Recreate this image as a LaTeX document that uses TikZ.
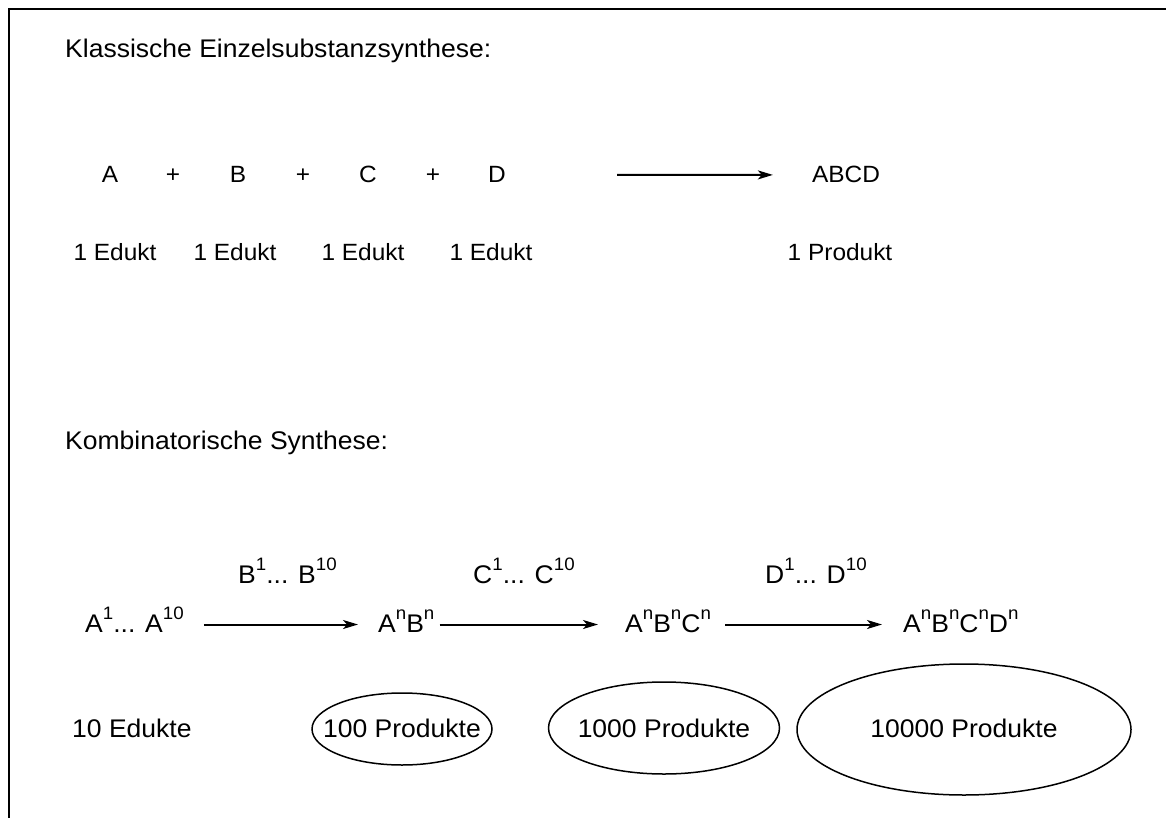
\documentclass[tikz,border=0pt]{standalone}
\usepackage{fontspec}
\setmainfont{Liberation Sans}[FakeStretch=1.04]
\usetikzlibrary{arrows.meta}

% hochgestellte Indizes
\newcommand{\hoch}[1]{\raisebox{12.5pt}{\fontsize{18}{20}\selectfont #1}}

\begin{document}
\begin{tikzpicture}[x=1pt, y=-1pt,
    txt/.style={inner sep=0pt, anchor=base, font=\fontsize{23.5}{28}\selectfont},
    txtl/.style={txt, anchor=base west},
    gross/.style={font=\fontsize{25.5}{30}\selectfont},
    titel/.style={txtl, gross},
    pfeil/.style={line width=2pt, -{Stealth[length=15pt, width=9pt, inset=4pt]}},
    rand/.style={line width=1.5pt}]
    \useasboundingbox (0,0) rectangle (1166,818);
    \draw[line width=2pt] (9,818) |- (1166,9);

    % Einzelsubstanzsynthese
    \node[titel] (titel1) at (65,58) {Klassische Einzelsubstanzsynthese:};
    \node[txt] (a) at (110,183) {A};
    \node[txt] (plus1) at (173,183) {+};
    \node[txt] (b) at (238,183) {B};
    \node[txt] (plus2) at (303,183) {+};
    \node[txt] (c) at (368,183) {C};
    \node[txt] (plus3) at (433,183) {+};
    \node[txt] (d) at (497,183) {D};
    \node[txt] (abcd) at (846,183) {ABCD};
    \draw[pfeil, shorten <=111pt, shorten >=39pt] (d) -- (abcd);

    \node[txt] (edukt1) at (115,260) {1 Edukt};
    \node[txt] (edukt2) at (235,260) {1 Edukt};
    \node[txt] (edukt3) at (363,260) {1 Edukt};
    \node[txt] (edukt4) at (491,260) {1 Edukt};
    \node[txt] (produkt) at (840,260) {1 Produkt};

    % kombinatorische Synthese
    \node[titel] (titel2) at (65,449) {Kombinatorische Synthese:};
    \node[txtl, gross] (bset) at (238,583) {B\hoch{1}... B\hoch{10}};
    \node[txtl, gross] (cset) at (473,583) {C\hoch{1}... C\hoch{10}};
    \node[txtl, gross] (dset) at (765,583) {D\hoch{1}... D\hoch{10}};

    \node[txtl, gross] (aset) at (85,632) {A\hoch{1}... A\hoch{10}};
    \node[txtl, gross] (ab) at (378,632) {A\hoch{n}B\hoch{n}};
    \node[txtl, gross] (abc) at (625,632) {A\hoch{n}B\hoch{n}C\hoch{n}};
    \node[txtl, gross] (abcdn) at (903,632) {A\hoch{n}B\hoch{n}C\hoch{n}D\hoch{n}};
    \draw[pfeil, shorten <=20pt, shorten >=20pt] ([yshift=7.5pt]aset.base east) -- ([yshift=7.5pt]ab.base west);
    \draw[pfeil, shorten <=5pt, shorten >=27pt] ([yshift=7.5pt]ab.base east) -- ([yshift=7.5pt]abc.base west);
    \draw[pfeil, shorten <=14pt, shorten >=21pt] ([yshift=7.5pt]abc.base east) -- ([yshift=7.5pt]abcdn.base west);

    \node[txtl, gross] (edukte) at (72,737) {10 Edukte};
    \node[txt, gross] (p100) at (402,737) {100 Produkte};
    \node[txt, gross] (p1000) at (664,737) {1000 Produkte};
    \node[txt, gross] (p10000) at (964,737) {10000 Produkte};
    \draw[rand] ([yshift=8pt]p100.base) ellipse [x radius=90pt, y radius=36pt];
    \draw[rand] ([yshift=9pt]p1000.base) ellipse [x radius=115.5pt, y radius=46pt];
    \draw[rand] ([yshift=7.5pt]p10000.base) ellipse [x radius=167pt, y radius=65.5pt];
\end{tikzpicture}
\end{document}
